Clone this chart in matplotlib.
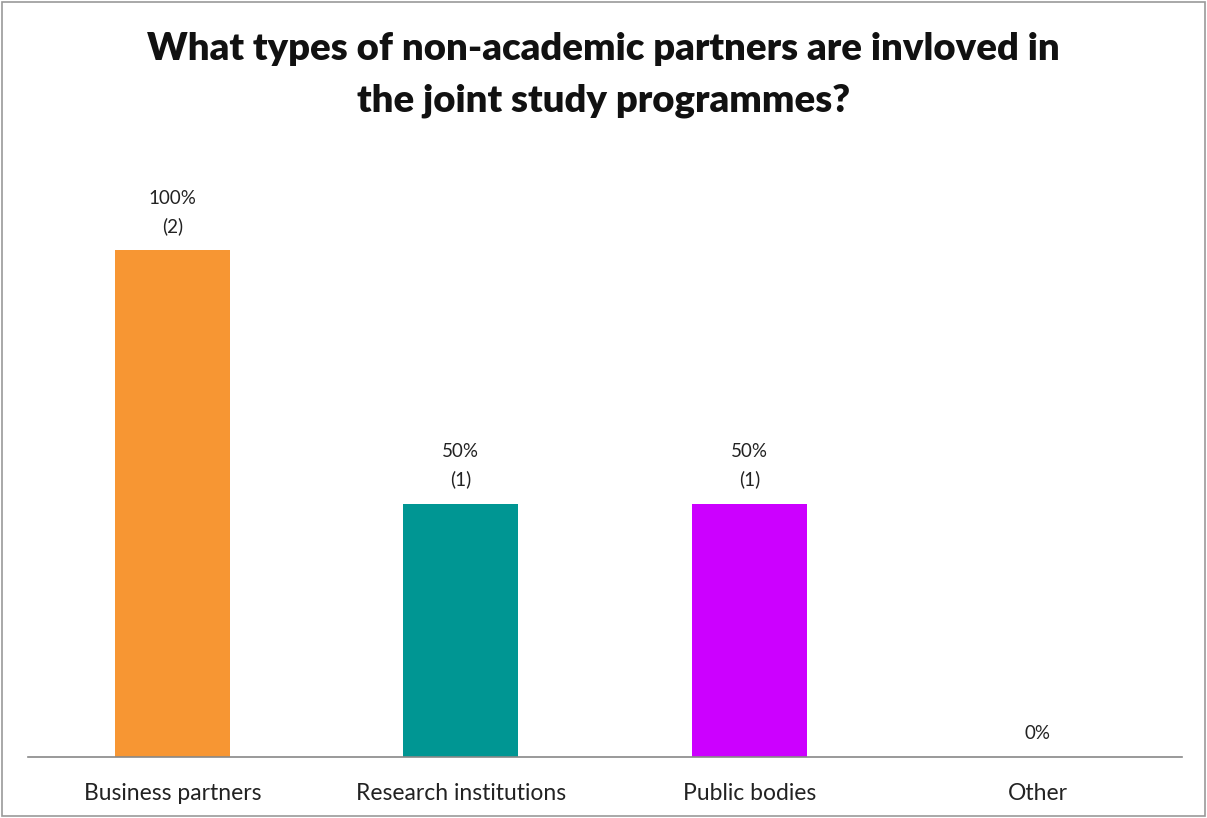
import matplotlib.pyplot as plt
from matplotlib.patches import Rectangle

# survey answers
categories = ["Business partners", "Research institutions", "Public bodies", "Other"]
shares = [1.0, 0.5, 0.5, 0.0]
counts = [2, 1, 1, 0]
colors = ["#F79633", "#009693", "#CC00FF", "#FFFFFF"]

plt.rcParams['font.family'] = ['Lato', 'DejaVu Sans']

fig = plt.figure(figsize=(12.07, 8.18), dpi=100)
ax = fig.add_axes([28 / 1207, 1 - 757 / 818, (1182 - 28) / 1207, 608 / 818])

x = list(range(len(categories)))
ax.bar(x, shares, width=0.40, color=colors)

# labels over bars
for xi, s, c in zip(x, shares, counts):
    if c > 0:
        txt = "%d%%\n(%d)" % (round(s * 100), c)
    else:
        txt = "%d%%" % round(s * 100)
    ax.annotate(txt, (xi, s), xytext=(0, 11), textcoords="offset points",
                ha="center", va="bottom", fontsize=13.5, color="#222222",
                linespacing=1.7)

ax.set_xlim(-0.5, 3.5)
ax.set_ylim(0, 1.2)
ax.set_yticks([])
ax.set_xticks(x)
ax.set_xticklabels(categories, fontsize=16.5, color="#222222")
ax.tick_params(axis="x", length=0, pad=19)
for side in ["top", "right", "left"]:
    ax.spines[side].set_visible(False)
ax.spines["bottom"].set_color("#888888")
ax.spines["bottom"].set_linewidth(1.2)

fig.text(0.5, 1 - 75 / 818,
         "What types of non-academic partners are invloved in\nthe joint study programmes?",
         ha="center", va="center", fontsize=27.5, fontweight="heavy",
         color="#111111", linespacing=1.6)

# outer frame
fig.patches.append(Rectangle((0.002, 0.003), 0.996, 0.994, transform=fig.transFigure,
                             fill=False, edgecolor="#999999", linewidth=1.2))

fig.savefig("out.png", dpi=100)
